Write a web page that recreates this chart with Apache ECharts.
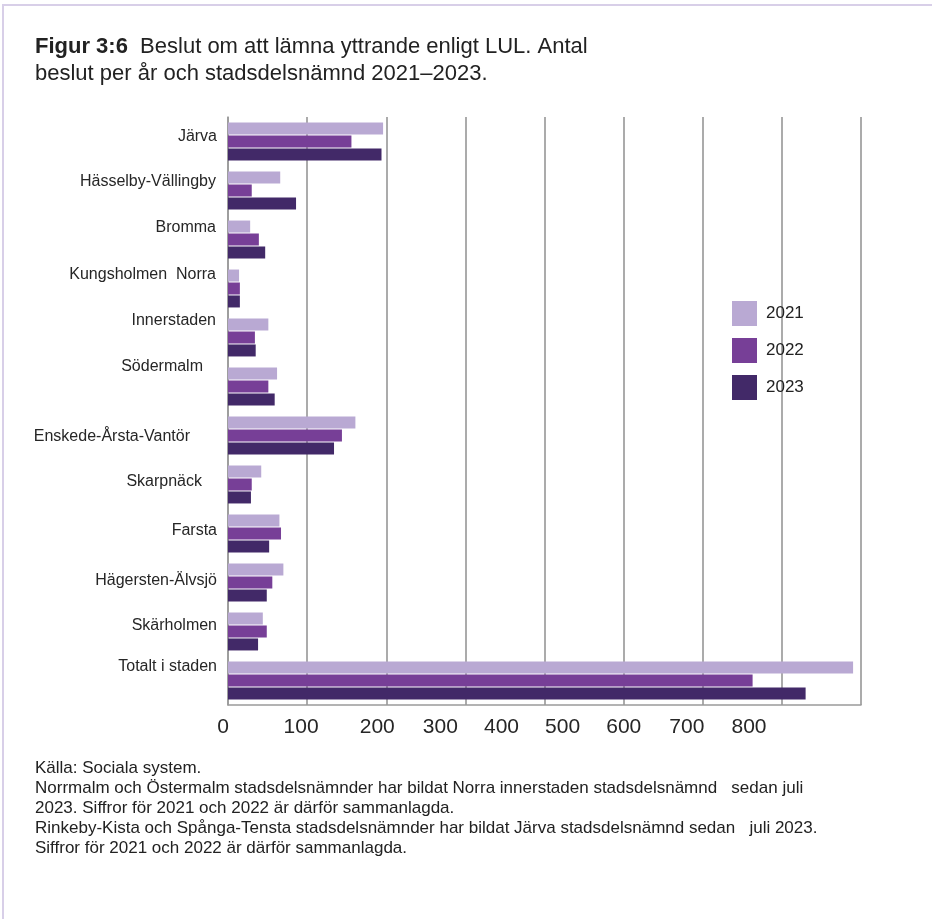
<!DOCTYPE html>
<html><head><meta charset="utf-8">
<script src="https://cdn.jsdelivr.net/npm/echarts@6/dist/echarts.min.js"></script>
<style>html,body{margin:0;padding:0;background:#fff}#c{width:932px;height:919px}</style>
</head><body><div id="c"></div>
<script>
// ---- data ----
const categories = ['Järva', 'Hässelby-Vällingby', 'Bromma', 'Kungsholmen  Norra', 'Innerstaden', 'Södermalm',
  'Enskede-Årsta-Vantör', 'Skarpnäck', 'Farsta', 'Hägersten-Älvsjö', 'Skärholmen', 'Totalt i staden'];
const years = ['2021', '2022', '2023'];
const values2021 = [196, 66, 28, 14, 51, 62, 161, 42, 65, 70, 44, 790];
const values2022 = [156, 30, 39, 15, 34, 51, 144, 30, 67, 56, 49, 663];
const values2023 = [194, 86, 47, 15, 35, 59, 134, 29, 52, 49, 38, 730];
const xTickLabels = ['0', '100', '200', '300', '400', '500', '600', '700', '800'];
const titleLine1 = 'Beslut om att lämna yttrande enligt LUL. Antal';
const titleLine2 = 'beslut per år och stadsdelsnämnd 2021–2023.';
const titleBold = 'Figur 3:6';
const footerLines = [
  'Källa: Sociala system.',
  'Norrmalm och Östermalm stadsdelsnämnder har bildat Norra innerstaden stadsdelsnämnd   sedan juli',
  '2023. Siffror för 2021 och 2022 är därför sammanlagda.',
  'Rinkeby-Kista och Spånga-Tensta stadsdelsnämnder har bildat Järva stadsdelsnämnd sedan   juli 2023.',
  'Siffror för 2021 och 2022 är därför sammanlagda.'
];

// ---- style (label placement quirks of the original) ----
const FONT = "'Liberation Sans', Arial, sans-serif";
const colors = ['#b9a9d3', '#773f97', '#422968'];
const catShiftUp = [5, 9, 12, 14, 17, 20, -1, 3, 3, 2, 6, 14];
const catShiftLeft = [0, 1, 1, 1, 1, 14, 27, 15, 0, 0, 0, 0];
const xLabelShiftLeft = [5, 6, 9, 25, 43, 61, 79, 95, 112];

const catRich = {};
catShiftUp.forEach((up, i) => {
  const pad = up >= 0 ? [0, catShiftLeft[i], 2 * up, 0] : [-2 * up, catShiftLeft[i], 0, 0];
  catRich['c' + i] = { fontSize: 16, fontFamily: FONT, color: '#262626', padding: pad };
});
const xRich = {};
xLabelShiftLeft.forEach((d, i) => {
  xRich['t' + i] = { fontSize: 21, fontFamily: FONT, color: '#262626', padding: [0, 2 * d, 0, 0] };
});

const chart = echarts.init(document.getElementById('c'), null, { renderer: 'canvas' });
const seriesData = [values2021, values2022, values2023];

chart.setOption({
  animation: false,
  backgroundColor: '#fff',
  title: {
    left: 35, top: 33, padding: 0,
    text: '{b|' + titleBold + '}  ' + titleLine1 + '\n' + titleLine2,
    textStyle: {
      fontSize: 22, fontWeight: 'normal', fontFamily: FONT, color: '#222', lineHeight: 27,
      rich: { b: { fontSize: 22, fontWeight: 'bold', fontFamily: FONT, color: '#222', lineHeight: 27 } }
    }
  },
  legend: {
    orient: 'vertical', left: 732, top: 301, padding: 0,
    itemWidth: 25, itemHeight: 25, itemGap: 12, icon: 'rect',
    data: years,
    textStyle: { fontSize: 17, fontFamily: FONT, color: '#222', padding: [0, 0, 0, 4] }
  },
  grid: { left: 228, right: 71, top: 117, bottom: 214, containLabel: false },
  xAxis: {
    type: 'value', min: 0, max: 800, interval: 100,
    axisLine: { show: true, lineStyle: { color: '#9a9a9a', width: 1.5 } },
    axisTick: { show: false },
    splitLine: { show: true, lineStyle: { color: '#8f8f8f', width: 1.5 } },
    axisLabel: {
      margin: 12,
      formatter: function (v) {
        const i = Math.round(v / 100);
        return '{t' + i + '|' + xTickLabels[i] + '}';
      },
      rich: xRich
    }
  },
  yAxis: {
    type: 'category', data: categories, inverse: true,
    axisLine: { show: true, lineStyle: { color: '#9a9a9a', width: 1.5 } },
    axisTick: { show: false },
    splitLine: { show: false },
    axisLabel: {
      margin: 11,
      formatter: function (v, i) { return '{c' + i + '|' + v + '}'; },
      rich: catRich
    }
  },
  series: years.map((y, k) => ({
    name: y, type: 'bar', data: seriesData[k],
    barWidth: 12, barGap: '8%',
    itemStyle: { color: colors[k] }
  })),
  graphic: [
    {
      type: 'rect', silent: true, z: -10,
      shape: { x: 3, y: 5, width: 940, height: 930 },
      style: { fill: 'none', stroke: '#d8cfe8', lineWidth: 2 }
    },
    {
      type: 'text', left: 35, top: 758,
      style: {
        text: footerLines.join('\n'),
        font: '17px "Liberation Sans", Arial, sans-serif', lineHeight: 20, fill: '#222'
      }
    }
  ]
});
</script></body></html>
